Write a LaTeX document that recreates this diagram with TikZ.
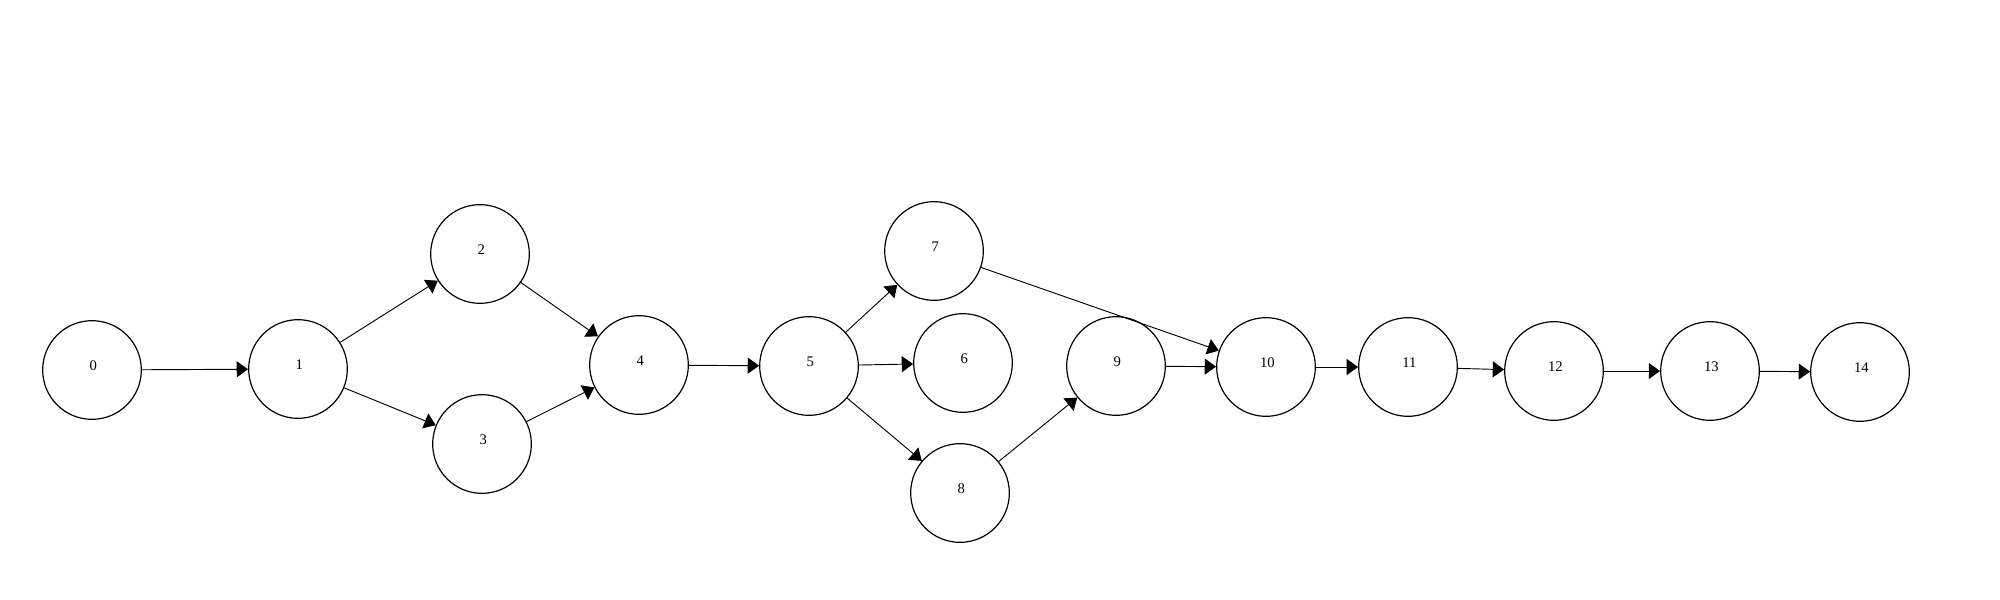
\documentclass[tikz,border=0pt]{standalone}
\usepackage{fontspec}
\setmainfont{Liberation Serif}
\usetikzlibrary{arrows.meta}
\tikzset{
  st/.style={circle,draw=black,line width=0.9pt,minimum size=74pt,inner sep=0pt,
    label={[font=\fontsize{11}{13}\selectfont,yshift=3pt,xshift=1pt]center:#1}},
  edge/.style={draw=black,line width=0.7pt,-{Triangle[length=8.5pt,width=12pt]}}
}
\begin{document}
\begin{tikzpicture}[x=0.75pt,y=-0.75pt]
\useasboundingbox (0,0) rectangle (2000,600);
\node[st=0]  (n0)  at (92,370)   {};
\node[st=1]  (n1)  at (298,369)  {};
\node[st=2]  (n2)  at (480,254)  {};
\node[st=3]  (n3)  at (482,444)  {};
\node[st=4]  (n4)  at (639,365)  {};
\node[st=5]  (n5)  at (809,366)  {};
\node[st=7]  (n7)  at (934,251)  {};
\node[st=6]  (n6)  at (963,363)  {};
\node[st=8]  (n8)  at (960,493)  {};
\node[st=9]  (n9)  at (1116,366) {};
\node[st=10] (n10) at (1266,367) {};
\node[st=11] (n11) at (1408,367) {};
\node[st=12] (n12) at (1554,371) {};
\node[st=13] (n13) at (1710,371) {};
\node[st=14] (n14) at (1860,372) {};
\draw[edge] (n0) -- (n1);
\draw[edge] (n1) -- (n2);
\draw[edge] (n1) -- (n3);
\draw[edge] (n2) -- (n4);
\draw[edge] (n3) -- (n4);
\draw[edge] (n4) -- (n5);
\draw[edge] (n5) -- (n7);
\draw[edge] (n5) -- (n6);
\draw[edge] (n5) -- (n8);
\draw[edge] (n8) -- (n9);
\draw[edge] (n7) -- (n10);
\draw[edge] (n9) -- (n10);
\draw[edge] (n10) -- (n11);
\draw[edge] (n11) -- (n12);
\draw[edge] (n12) -- (n13);
\draw[edge] (n13) -- (n14);
\end{tikzpicture}
\end{document}
